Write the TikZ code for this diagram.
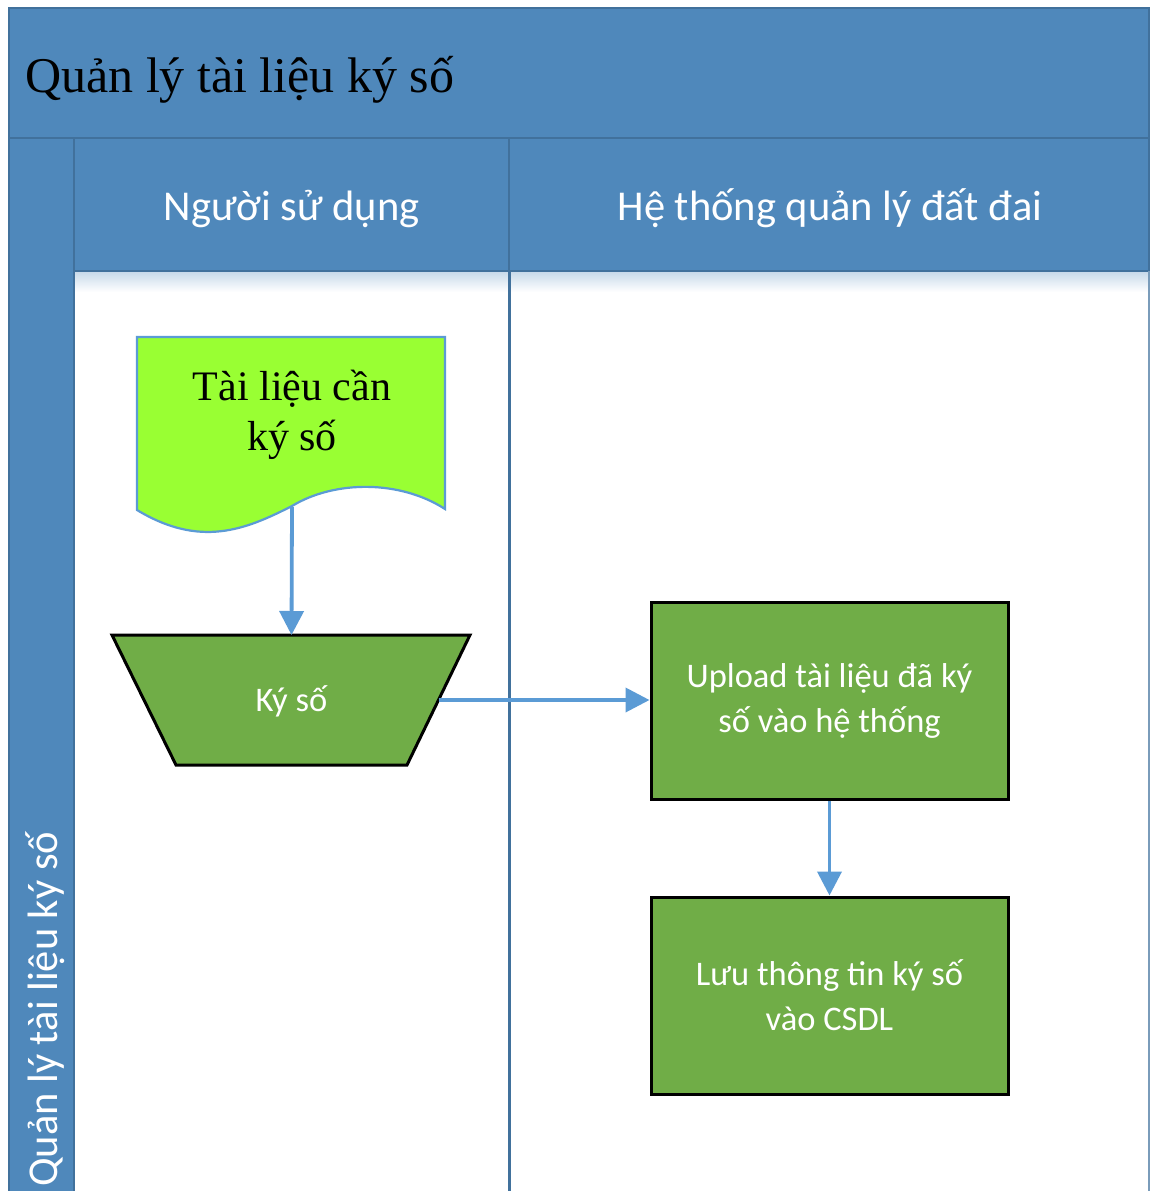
\documentclass[tikz,border=0pt]{standalone}
\usepackage{fontspec}
\setmainfont{Liberation Serif}
\newfontfamily\carl{Carlito}
\usetikzlibrary{arrows.meta}
\definecolor{band}{RGB}{79,136,187}
\definecolor{bandline}{RGB}{65,113,156}
\definecolor{docgreen}{RGB}{153,255,51}
\definecolor{boxgreen}{RGB}{112,173,71}
\definecolor{arrowblue}{RGB}{91,155,213}
\begin{document}
\begin{tikzpicture}[x=1pt,y=-1pt,
  bandbox/.style={fill=band,draw=bandline,line width=2.5pt},
  lanetext/.style={text=white,inner sep=0pt,font=\carl\fontsize{42.5}{50}\selectfont},
  proctext/.style={text=white,font=\carl\fontsize{34.5}{45}\selectfont,align=center,inner sep=0pt},
  procbox/.style={proctext,draw=black,line width=3pt,fill=boxgreen,minimum width=357pt,minimum height=197pt},
  flow/.style={draw=arrowblue,line width=3.8pt,-{Triangle[length=24pt,width=24pt]}}]
\useasboundingbox (0,0) rectangle (1150,1191);
\fill[white] (0,0) rectangle (1150,1191);
% pool frame
\draw[bandbox] (9,8) rectangle (1149,138);
\draw[bandbox] (9,138) rectangle (74,1196);
\draw[bandbox] (74,138) rectangle (509,271);
\draw[bandbox] (509,138) rectangle (1149,271);
\shade[top color=band!30,bottom color=white] (75,272.5) rectangle (1148,292);
\draw[draw=bandline,line width=3pt] (509,271) -- (509,1196);
\draw[draw=bandline!70,line width=1.5pt] (1149,271) -- (1149,1196);
% titles
\node[anchor=base west,inner sep=0pt,font=\fontsize{50}{60}\selectfont] (title) at (25,92) {Quản lý tài liệu ký số};
\node[lanetext,anchor=base] (lane1) at (291.5,220) {Người sử dụng};
\node[lanetext,anchor=base] (lane2) at (830,220) {Hệ thống quản lý đất đai};
\node[lanetext,rotate=90,anchor=base west] (pool) at (57,1187) {Quản lý tài liệu ký số};
% document shape
\path[draw=arrowblue,line width=2.2pt,fill=docgreen] (137,337) -- (445,337) -- (445,509)
  .. controls (400,480) and (335,480) .. (292,506)
  .. controls (245,530) and (200,548) .. (137,510) -- cycle;
\node[font=\fontsize{42}{50}\selectfont,align=center,inner sep=0pt] (doc) at (292,415) {Tài liệu cần\\ký số};
\coordinate (docb) at (292,507);
% manual operation (trapezium)
\path[draw=black,line width=3pt,fill=boxgreen] (112,635) -- (470,635) -- (407,765) -- (176,765) -- cycle;
\node[proctext] (trap) at (291.5,701) {Ký số};
\coordinate (trapN) at (291.5,635);
\coordinate (trapE) at (438.5,700);
% process boxes
\node[procbox] (up) at (829.5,700.5) {Upload tài liệu đã ký\\số vào hệ thống};
\node[procbox] (luu) at (829.5,995.5) {Lưu thông tin ký số\\vào CSDL};
% connectors
\draw[flow] (docb) -- (trapN);
\draw[flow] (trapE) -- (trapE -| up.west);
\draw[flow] (up.south) -- (luu.north);
\end{tikzpicture}
\end{document}
